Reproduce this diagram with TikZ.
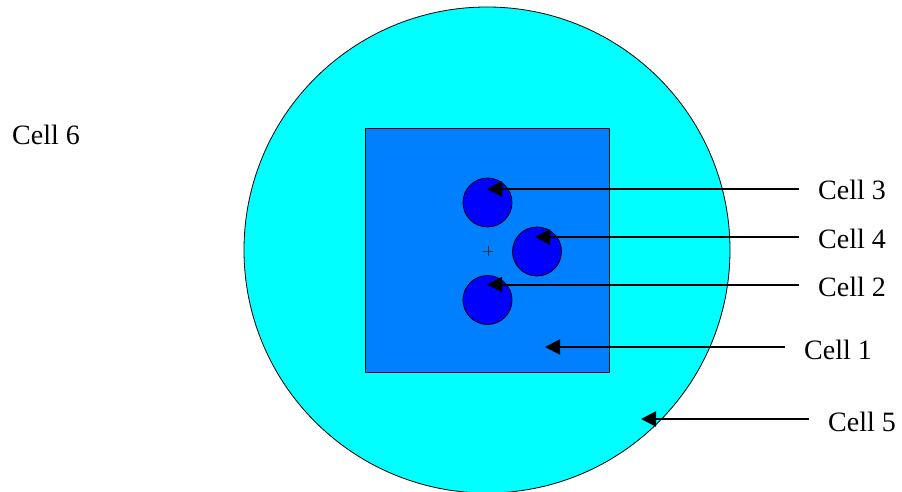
\documentclass[tikz,border=0pt]{standalone}
\usepackage{fontspec}
\setmainfont{Liberation Serif}
\usetikzlibrary{arrows.meta}
\definecolor{cellfive}{RGB}{0,255,255}
\definecolor{cellone}{RGB}{0,128,255}
\definecolor{cellsmall}{RGB}{0,0,255}
\tikzset{
  lbl/.style={font=\fontsize{28}{30}\selectfont, anchor=west, inner sep=0pt},
  ptr/.style={line width=2pt, -{Triangle[length=15pt,width=15pt]}},
  smallcell/.style={circle, draw=black, line width=0.8pt, fill=cellsmall, minimum size=49pt, inner sep=0pt}
}
\begin{document}
\begin{tikzpicture}[x=1pt,y=-1pt]
\useasboundingbox (0,0) rectangle (902,492);
\clip (0,0) rectangle (902,492);
\fill[white] (0,0) rectangle (902,492);
% Cell 5 (large circle)
\node[circle, draw=black, line width=0.8pt, fill=cellfive, minimum size=486pt, inner sep=0pt] (c5) at (487,250) {};
% Cell 1 (square)
\node[rectangle, draw=black, line width=0.8pt, fill=cellone, minimum size=244pt, inner sep=0pt] (c1) at (487,250) {};
% Small cells
\node[smallcell] (c3) at (487.5,202.5) {};
\node[smallcell] (c4) at (537,251.5) {};
\node[smallcell] (c2) at (487.5,300) {};
% Centre mark
\coordinate (ctr) at (488,251);
\draw[line width=0.6pt, black!80] ([xshift=-5pt]ctr) -- ([xshift=5pt]ctr)
  ([yshift=-5pt]ctr) -- ([yshift=5pt]ctr);
% Labels
\node[lbl] (l3) at (818,190) {Cell 3};
\node[lbl] (l4) at (818,239) {Cell 4};
\node[lbl] (l2) at (818,287) {Cell 2};
\node[lbl] (l1) at (804,350) {Cell 1};
\node[lbl] (l5) at (828,422) {Cell 5};
\node[lbl] (l6) at (12,135) {Cell 6};
% Arrow endpoints
\coordinate (s3) at (799,189);
\coordinate (t3) at (487,189);
\coordinate (s4) at (799,237);
\coordinate (t4) at (535,237);
\coordinate (s2) at (799,284.5);
\coordinate (t2) at (487,284.5);
\coordinate (s1) at (785,347);
\coordinate (t1) at (545,347);
\coordinate (s5) at (809,419);
\coordinate (t5) at (641,419);
\draw[ptr] (s3) -- (t3);
\draw[ptr] (s4) -- (t4);
\draw[ptr] (s2) -- (t2);
\draw[ptr] (s1) -- (t1);
\draw[ptr] (s5) -- (t5);
\end{tikzpicture}
\end{document}
